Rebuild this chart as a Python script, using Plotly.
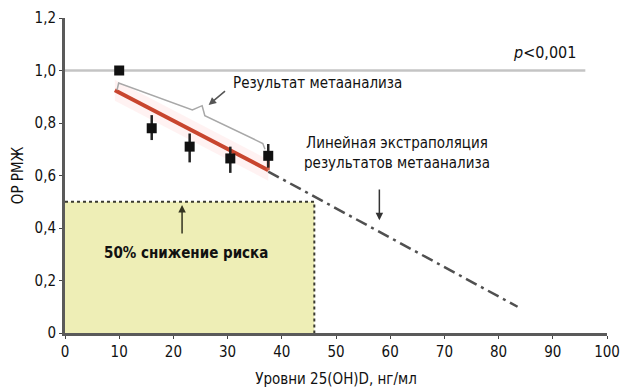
import plotly.graph_objects as go

# Observed relative risk by 25(OH)D level
levels = [10, 16, 23, 30.5, 37.5]
rr = [1.00, 0.78, 0.71, 0.665, 0.675]
rr_hi = [1.00, 0.83, 0.76, 0.71, 0.72]
rr_lo = [1.00, 0.735, 0.65, 0.61, 0.63]

# Meta-analysis fit and its linear extrapolation
fit_x = [9.2, 37.5]
fit_y = [0.925, 0.62]
extra_x = [37.5, 83.5]
extra_y = [0.615, 0.10]

# Bracket marking the meta-analysis range
brace_x = [9.6, 9.9, 23.5, 25.3, 25.8, 36.5, 36.9]
brace_y = [0.925, 0.952, 0.850, 0.866, 0.828, 0.722, 0.700]

# 50% risk reduction zone
zone_x = 46
zone_y = 0.5

x_ticks = list(range(0, 101, 10))
y_ticks = [0, 0.2, 0.4, 0.6, 0.8, 1.0, 1.2]
y_labels = ["0", "0,2", "0,4", "0,6", "0,8", "1,0", "1,2"]

FONT = "DejaVu Sans Condensed, Liberation Sans, Arial, sans-serif"
FS = 15

fig = go.Figure()

# shaded zone
fig.add_trace(go.Scatter(
    x=[0, zone_x, zone_x, 0, 0], y=[0, 0, zone_y, zone_y, 0],
    fill="toself", fillcolor="#eeeeb6", mode="lines",
    line=dict(width=0), hoverinfo="skip", showlegend=False))
fig.add_trace(go.Scatter(
    x=[0, zone_x, zone_x], y=[zone_y, zone_y, 0],
    mode="lines", line=dict(color="#3a3a30", width=2, dash="dot"),
    hoverinfo="skip", showlegend=False))

# pale band around the fitted line
band_x = [fit_x[0], fit_x[1], fit_x[1], fit_x[0], fit_x[0]]
band_y = [fit_y[0] + 0.04, fit_y[1] + 0.04, fit_y[1] - 0.04, fit_y[0] - 0.04, fit_y[0] + 0.04]
fig.add_trace(go.Scatter(
    x=band_x, y=band_y, fill="toself", fillcolor="rgba(255,190,190,0.2)",
    mode="lines", line=dict(width=0), hoverinfo="skip", showlegend=False))

# extrapolation
fig.add_trace(go.Scatter(
    x=extra_x, y=extra_y, mode="lines",
    line=dict(color="#505050", width=2.5, dash="12px,5px,3px,5px"),
    hoverinfo="skip", showlegend=False))

# meta-analysis fit
fig.add_trace(go.Scatter(
    x=fit_x, y=fit_y, mode="lines",
    line=dict(color="#c8452e", width=4),
    hoverinfo="skip", showlegend=False))
fig.add_trace(go.Scatter(
    x=[fit_x[1], fit_x[1]], y=[fit_y[1], rr[-1]], mode="lines",
    line=dict(color="#d0604a", width=3),
    hoverinfo="skip", showlegend=False))

# bracket
fig.add_trace(go.Scatter(
    x=brace_x, y=brace_y, mode="lines",
    line=dict(color="#a8a8a8", width=1.5),
    hoverinfo="skip", showlegend=False))

# observed points with intervals
fig.add_trace(go.Scatter(
    x=levels, y=rr, mode="markers",
    marker=dict(symbol="square", size=10, color="#111111"),
    error_y=dict(type="data", symmetric=False,
                 array=[h - v for h, v in zip(rr_hi, rr)],
                 arrayminus=[v - l for l, v in zip(rr_lo, rr)],
                 color="#222222", thickness=2.5, width=0),
    hoverinfo="skip", showlegend=False))

# reference line at RR = 1
fig.add_shape(type="line", x0=0, x1=96, y0=1.0, y1=1.0,
              line=dict(color="#c4c4c4", width=2.5), layer="below")

fig.add_annotation(x=94.7, y=1.07, text="<i>p</i>&lt;0,001", showarrow=False,
                   xanchor="right", font=dict(size=FS + 1, color="#111"))
fig.add_annotation(x=30.7, y=0.952, text="Результат метаанализа", showarrow=False,
                   xanchor="left", font=dict(size=FS, color="#111"))
fig.add_annotation(x=61.2, y=0.686, text="Линейная экстраполяция<br>результатов метаанализа",
                   showarrow=False, align="center", font=dict(size=FS, color="#111"))
fig.add_annotation(x=6.8, y=0.305, text="<b>50% снижение риска</b>", showarrow=False,
                   xanchor="left", font=dict(size=FS, color="#111"))

# arrows
fig.add_annotation(x=26.5, y=0.869, ax=29.8, ay=0.926, xref="x", yref="y",
                   axref="x", ayref="y", text="", showarrow=True,
                   arrowhead=2, arrowsize=1, arrowwidth=1.5, arrowcolor="#555")
fig.add_annotation(x=21.6, y=0.488, ax=21.6, ay=0.373, xref="x", yref="y",
                   axref="x", ayref="y", text="", showarrow=True,
                   arrowhead=2, arrowsize=1, arrowwidth=1.5, arrowcolor="#333320")
fig.add_annotation(x=58, y=0.43, ax=58, ay=0.552, xref="x", yref="y",
                   axref="x", ayref="y", text="", showarrow=True,
                   arrowhead=2, arrowsize=1, arrowwidth=1.5, arrowcolor="#333")

fig.update_layout(
    width=627, height=390,
    margin=dict(l=65, r=20, t=18, b=57, autoexpand=False),
    paper_bgcolor="white", plot_bgcolor="white",
    font=dict(family=FONT, size=FS, color="#111"),
    xaxis=dict(range=[0, 100], tickvals=x_ticks, showgrid=False, zeroline=False,
               showline=True, linecolor="#5a5a5a", linewidth=3,
               ticks="outside", ticklen=3, tickcolor="#444",
               tickfont=dict(size=FS), automargin=False,
               title=dict(text="Уровни 25(OH)D, нг/мл", font=dict(size=FS), standoff=14)),
    yaxis=dict(range=[0, 1.2], tickvals=y_ticks, ticktext=y_labels, showgrid=False,
               zeroline=False, showline=True, linecolor="#5a5a5a", linewidth=3,
               ticks="outside", ticklen=3, tickcolor="#444",
               tickfont=dict(size=FS), automargin=False,
               title=dict(text="ОР РМЖ", font=dict(size=FS), standoff=8)),
)

fig.write_html("out.html")
